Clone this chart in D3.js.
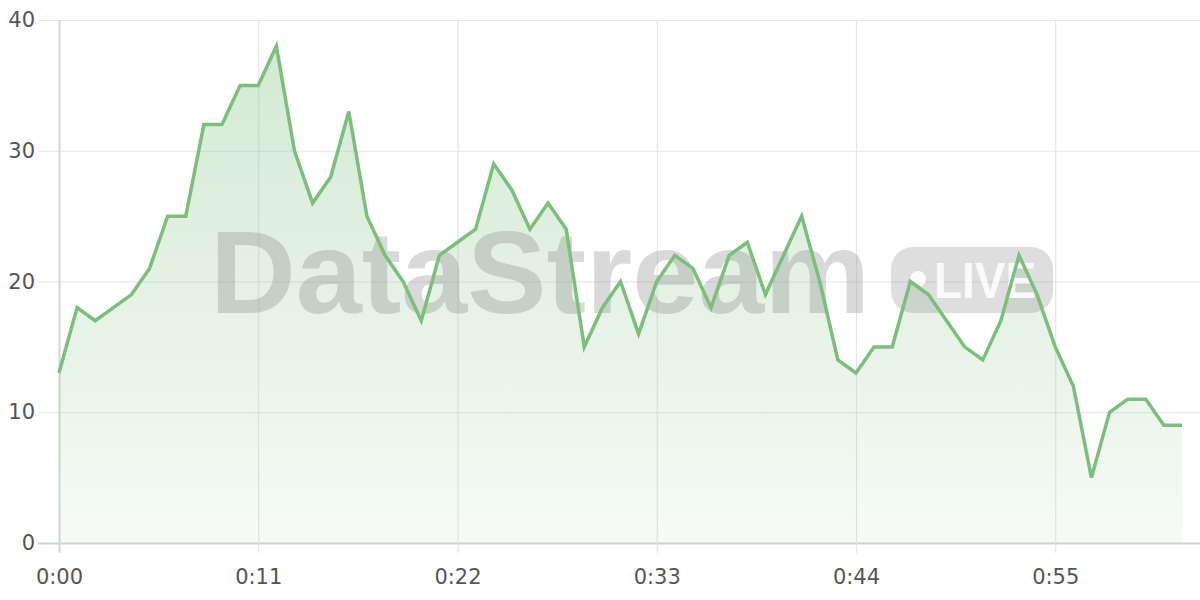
<!DOCTYPE html>
<html lang="en">
<head>
<meta charset="UTF-8">
<script src="https://d3js.org/d3.v7.min.js"></script>
<style>
  html, body { margin: 0; padding: 0; background: #fff; }
  #chart { width: 1200px; height: 600px; }
</style>
</head>
<body>
<div id="chart"></div>
<script>
// minutes since start
const minutes = d3.range(0, 63);
const values = [13, 18, 17, 18, 19, 21, 25, 25, 32, 32,
                35, 35, 38, 30, 26, 28, 33, 25, 22, 20,
                17, 22, 23, 24, 29, 27, 24, 26, 24, 15,
                18, 20, 16, 20, 22, 21, 18, 22, 23, 19,
                22, 25, 20, 14, 13, 15, 15, 20, 19, 17,
                15, 14, 17, 22, 19, 15, 12, 5, 10, 11,
                11, 9, 9];
const xTicks = [0, 11, 22, 33, 44, 55];
const yTicks = [0, 10, 20, 30, 40];

const width = 1200, height = 600;
const margin = {top: 20, right: 18, bottom: 57, left: 59};
const lineColor = "#7cbf7c";
const labelFont = "'DejaVu Sans', 'Noto Sans', sans-serif";

const data = minutes.map((m, i) => ({m: m, v: values[i]}));

const svg = d3.select("#chart").append("svg")
    .attr("width", width)
    .attr("height", height);

const x = d3.scaleLinear().domain([0, 62]).range([margin.left, width - margin.right]);
const y = d3.scaleLinear().domain([0, 40]).range([height - margin.bottom, margin.top]);

const fmt = m => Math.floor(m / 60) + ":" + String(m % 60).padStart(2, "0");

// gradient under the line
const grad = svg.append("defs").append("linearGradient")
    .attr("id", "fillGrad")
    .attr("gradientUnits", "userSpaceOnUse")
    .attr("x1", 0).attr("x2", 0)
    .attr("y1", y(40)).attr("y2", y(0));
grad.append("stop").attr("offset", "0%").attr("stop-color", lineColor).attr("stop-opacity", 0.35);
grad.append("stop").attr("offset", "100%").attr("stop-color", lineColor).attr("stop-opacity", 0.07);

// horizontal grid (y axis)
const yAxis = svg.append("g")
    .attr("transform", `translate(${margin.left},0)`)
    .call(d3.axisLeft(y).tickValues(yTicks).tickSize(-(width - margin.left)));
yAxis.select(".domain").remove();
yAxis.selectAll(".tick line")
    .attr("x1", -21)
    .attr("stroke", d => d === 0 ? "#cfd3cf" : "#e6e6e6")
    .attr("stroke-width", d => d === 0 ? 2 : 1.2);
yAxis.selectAll(".tick text")
    .attr("x", -24)
    .attr("font-size", 21)
    .attr("fill", "#555")
    .attr("font-family", labelFont);

// vertical grid (x axis)
const xAxis = svg.append("g")
    .attr("transform", `translate(0,${y(0)})`)
    .call(d3.axisBottom(x).tickValues(xTicks).tickFormat(fmt)
        .tickSize(-(y(0) - y(40))).tickPadding(26));
xAxis.select(".domain").remove();
xAxis.selectAll(".tick line")
    .attr("y2", -(y(0) - y(40)))
    .attr("y1", 10)
    .attr("stroke", d => d === 0 ? "#d6d6d6" : "#e6e6e6")
    .attr("stroke-width", d => d === 0 ? 2 : 1.2);
xAxis.selectAll(".tick text")
    .attr("font-size", 21)
    .attr("fill", "#555")
    .attr("font-family", labelFont);

// area
const area = d3.area().x(d => x(d.m)).y0(y(0)).y1(d => y(d.v));
svg.append("path").datum(data).attr("d", area).attr("fill", "url(#fillGrad)");

// watermark
const wm = svg.append("g").attr("pointer-events", "none");
wm.append("text")
    .attr("x", 210).attr("y", 313)
    .attr("font-size", 116)
    .attr("font-weight", "bold")
    .attr("font-family", "'Liberation Sans', Arial, sans-serif")
    .attr("textLength", 660)
    .attr("lengthAdjust", "spacingAndGlyphs")
    .attr("fill", "#8a8a8a")
    .attr("fill-opacity", 0.32)
    .text("DataStream");
wm.append("rect")
    .attr("x", 891).attr("y", 247).attr("width", 162).attr("height", 66).attr("rx", 22)
    .attr("fill", "#8a8a8a").attr("fill-opacity", 0.28);
wm.append("circle")
    .attr("cx", 918).attr("cy", 279).attr("r", 8)
    .attr("fill", "#fff").attr("fill-opacity", 0.9);
wm.append("text")
    .attr("x", 934).attr("y", 298)
    .attr("font-size", 50)
    .attr("font-weight", 600)
    .attr("font-family", "'Liberation Sans', Arial, sans-serif")
    .attr("textLength", 102)
    .attr("lengthAdjust", "spacingAndGlyphs")
    .attr("fill", "#fff").attr("fill-opacity", 0.9)
    .text("LIVE");

// line
const line = d3.line().x(d => x(d.m)).y(d => y(d.v));
svg.append("path").datum(data)
    .attr("d", line)
    .attr("fill", "none")
    .attr("stroke", lineColor)
    .attr("stroke-width", 3.5)
    .attr("stroke-linejoin", "miter");
</script>
</body>
</html>
